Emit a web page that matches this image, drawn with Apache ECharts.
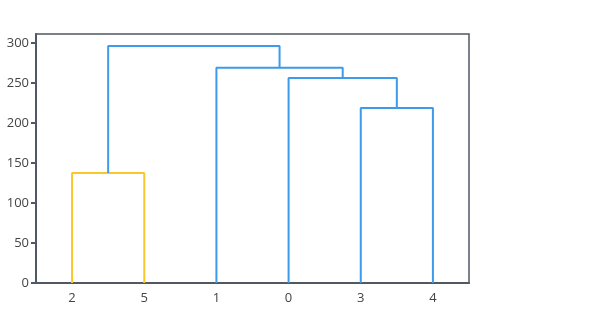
<!DOCTYPE html>
<html><head><meta charset="utf-8">
<script src="https://cdn.jsdelivr.net/npm/echarts@6/dist/echarts.min.js"></script>
<style>html,body{margin:0;padding:0;background:#fff}#c{width:600px;height:333px}</style>
</head><body><div id="c"></div>
<script>
// Leaf order along the x axis
const leafOrder = ['2', '5', '1', '0', '3', '4'];
// Linkage: [clusterA, clusterB, height]; new cluster ids start at 6
const linkA = [2, 3, 0, 1, 6];
const linkB = [5, 4, 7, 8, 9];
const linkHeight = [137.5, 218.5, 256, 269, 296];
const linkColor = ['#FAC72B', '#3D9BE9', '#3D9BE9', '#3D9BE9', '#3D9BE9'];
const yTicks = [0, 50, 100, 150, 200, 250, 300];

const pos = {}, hgt = {};
leafOrder.forEach((l, i) => { pos[+l] = i; hgt[+l] = 0; });
const series = [];
linkA.forEach((a, k) => {
  const b = linkB[k], h = linkHeight[k], id = leafOrder.length + k;
  series.push({
    type: 'line', xAxisIndex: 1, symbol: 'none', silent: true,
    lineStyle: { color: linkColor[k], width: 2 },
    data: [[pos[a], hgt[a]], [pos[a], h], [pos[b], h], [pos[b], hgt[b]]]
  });
  pos[id] = (pos[a] + pos[b]) / 2; hgt[id] = h;
});

const axisColor = '#4F5863';
const chart = echarts.init(document.getElementById('c'));
chart.setOption({
  animation: false,
  grid: { left: 36, right: 131, top: 34, bottom: 50, show: true, borderColor: axisColor, borderWidth: 1.5 },
  xAxis: [
    { type: 'category', data: leafOrder, boundaryGap: true,
      axisLine: { onZero: false, lineStyle: { color: axisColor, width: 2 } }, axisTick: { show: false },
      axisLabel: { color: '#444', fontSize: 13, fontFamily: 'Open Sans', margin: 9 } },
    { type: 'value', min: -0.5, max: 5.5, show: false }
  ],
  yAxis: {
    type: 'value', min: 0, max: 311,
    axisLine: { show: true, onZero: false, lineStyle: { color: axisColor, width: 2 } },
    axisTick: { show: true, length: 5, lineStyle: { color: axisColor, width: 2 }, customValues: yTicks },
    axisLabel: { color: '#444', fontSize: 13, fontFamily: 'Open Sans', margin: 7, customValues: yTicks },
    splitLine: { show: false }
  },
  series
});
</script></body></html>
